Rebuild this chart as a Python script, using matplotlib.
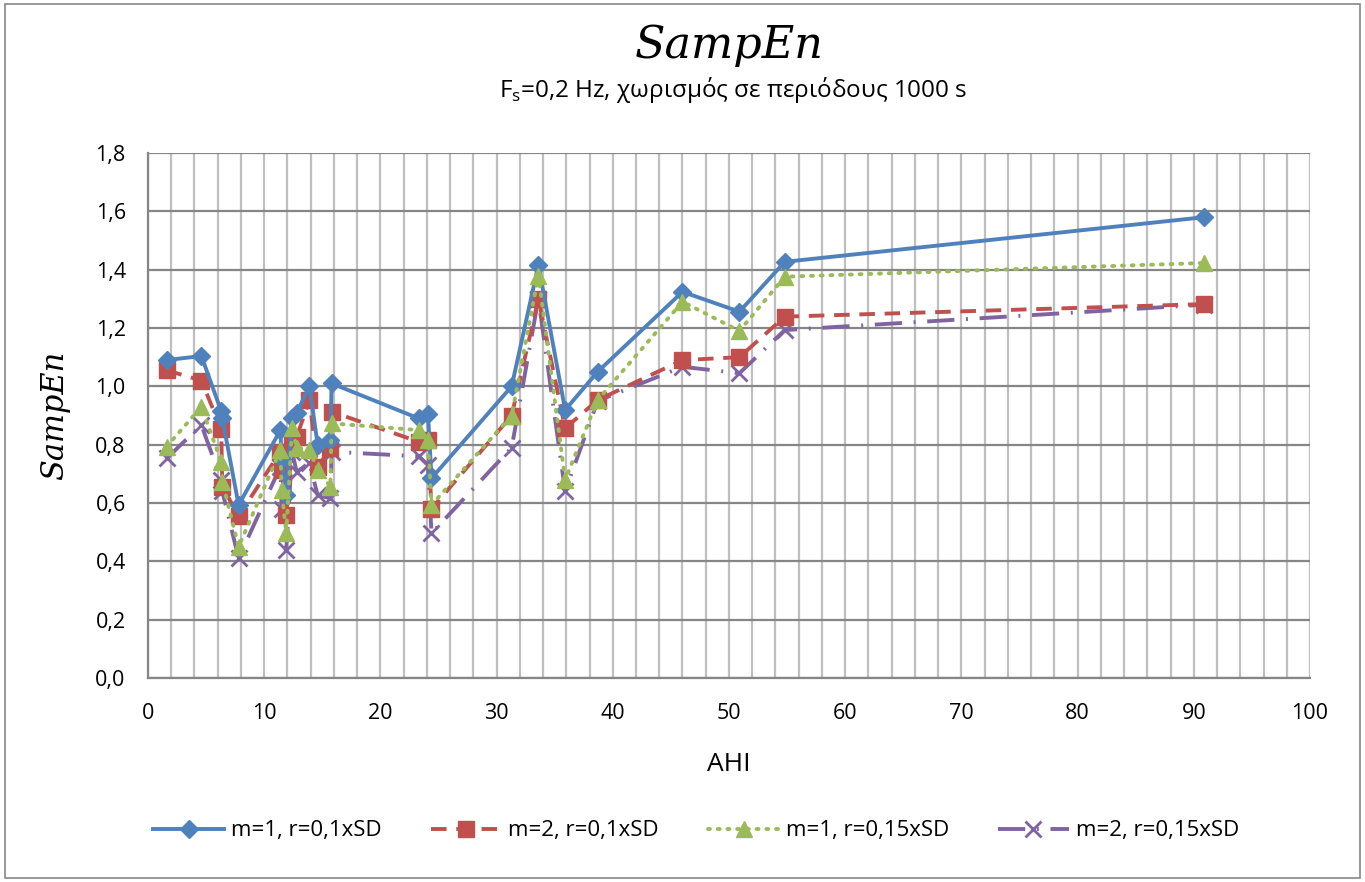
import matplotlib
matplotlib.use("Agg")
import matplotlib.pyplot as plt
from matplotlib.ticker import MultipleLocator, FuncFormatter
from matplotlib.patches import Rectangle

# AHI values (x) shared by all series
ahi = [1.6, 4.6, 6.3, 6.4, 7.8, 11.4, 11.5, 11.9, 12.4, 12.8, 13.9, 14.6, 15.7, 15.8,
       23.3, 24.1, 24.4, 31.3, 33.6, 35.9, 38.7, 46.0, 50.9, 54.8, 90.9]

m1_r010 = [1.09, 1.104, 0.915, 0.89, 0.593, 0.85, 0.75, 0.627, 0.89, 0.91, 1.0, 0.80, 0.816, 1.01,
           0.89, 0.905, 0.685, 1.0, 1.416, 0.919, 1.05, 1.324, 1.256, 1.427, 1.58]
m2_r010 = [1.055, 1.02, 0.853, 0.656, 0.555, 0.776, 0.713, 0.558, 0.80, 0.827, 0.953, 0.724, 0.787, 0.913,
           0.81, 0.816, 0.58, 0.90, 1.30, 0.856, 0.953, 1.09, 1.10, 1.239, 1.282]
m1_r015 = [0.793, 0.93, 0.742, 0.673, 0.45, 0.782, 0.644, 0.496, 0.856, 0.79, 0.782, 0.713, 0.656, 0.873,
           0.85, 0.816, 0.593, 0.90, 1.38, 0.68, 0.953, 1.29, 1.19, 1.376, 1.423]
m2_r015 = [0.753, 0.867, 0.68, 0.64, 0.41, 0.725, 0.58, 0.439, 0.776, 0.707, 0.736, 0.627, 0.616, 0.776,
           0.76, 0.73, 0.496, 0.79, 1.30, 0.64, 0.95, 1.067, 1.045, 1.193, 1.28]

labels = ["m=1, r=0,1xSD", "m=2, r=0,1xSD", "m=1, r=0,15xSD", "m=2, r=0,15xSD"]

plt.rcParams['font.family'] = ['Open Sans', 'DejaVu Sans']
plt.rcParams['mathtext.fontset'] = 'custom'
plt.rcParams['mathtext.rm'] = 'Open Sans'

fig = plt.figure(figsize=(13.65, 8.82), dpi=100)
ax = fig.add_axes([0.1084, 0.2313, 0.8513, 0.5952])

# chart border
fig.patches.append(Rectangle((0.004, 0.004), 0.992, 0.992, transform=fig.transFigure,
                             fill=False, edgecolor='#868686', linewidth=1.2))

ax.plot(ahi, m1_r010, color='#4F81BD', lw=2.8, ls='-', marker='D', ms=9.5, label=labels[0], zorder=4)
ax.plot(ahi, m2_r010, color='#C0504D', lw=2.8, ls=(0, (4, 2.5)), marker='s', ms=11, label=labels[1], zorder=3)
ax.plot(ahi, m1_r015, color='#9BBB59', lw=2.8, ls=(0, (0.5, 2.0)), dash_capstyle='round',
        marker='^', ms=11, label=labels[2], zorder=5)
ax.plot(ahi, m2_r015, color='#8064A2', lw=2.8, ls=(0, (7, 3, 0.5, 3)), marker='x', ms=11, mew=2,
        label=labels[3], zorder=2)

ax.set_xlim(0, 100)
ax.set_ylim(0, 1.8)
ax.xaxis.set_major_locator(MultipleLocator(10))
ax.xaxis.set_minor_locator(MultipleLocator(2))
ax.yaxis.set_major_locator(MultipleLocator(0.2))
ax.yaxis.set_major_formatter(FuncFormatter(lambda v, p: f"{v:.1f}".replace('.', ',')))
ax.grid(True, axis='x', which='both', color='#BFBFBF', lw=1.6, zorder=0)
ax.grid(True, axis='y', which='major', color='#868686', lw=1.6, zorder=0)
ax.set_axisbelow(True)
ax.tick_params(which='both', length=0, labelsize=15.5)
ax.tick_params(axis='x', pad=18)
ax.tick_params(axis='y', pad=16)
for s in ['top', 'right']:
    ax.spines[s].set_visible(False)
for s in ['left', 'bottom']:
    ax.spines[s].set_color('#868686')
    ax.spines[s].set_linewidth(1.6)

ax.set_xlabel("AHI", fontsize=19, labelpad=20)
ax.set_ylabel("SampEn", fontsize=22, family='DejaVu Serif', style='italic', labelpad=18)

fig.text(0.534, 0.949, "SampEn", ha='center', va='center', fontsize=32,
         family='DejaVu Serif', style='italic')
fig.text(0.537, 0.898, "F$_\\mathrm{s}$=0,2 Hz, χωρισμός σε περιόδους 1000 s", ha='center', va='center',
         fontsize=17.5)

fig.legend(loc='center', bbox_to_anchor=(0.51, 0.058), ncol=4, frameon=False, fontsize=16,
           handlelength=3.2, columnspacing=2.2, handletextpad=0.3)

fig.savefig("out.png", dpi=100)
